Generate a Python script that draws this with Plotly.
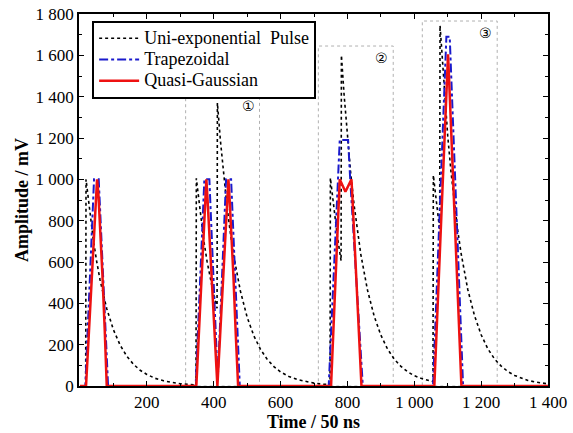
import plotly.graph_objects as go

# ---------------- data ----------------
# Uni-exponential pulse (black dotted)
uni_t = [0, 17, 18, 30, 40, 50, 60, 80, 100, 120, 140, 160, 180, 200, 225, 250, 275, 300, 325, 347,
         348, 360, 370, 380, 390, 400, 410, 411, 420, 430, 440, 450, 460, 480, 500, 520, 540, 560, 580,
         600, 625, 650, 675, 700, 725, 748,
         749, 760, 770, 781, 782, 790, 800, 810, 820, 830, 840, 860, 880, 900, 920, 940, 960, 980, 1000,
         1020, 1040, 1056,
         1057, 1067, 1076, 1077, 1090, 1100, 1110, 1120, 1130, 1140, 1160, 1180, 1200, 1220, 1240, 1260,
         1280, 1300, 1320, 1340, 1360, 1380, 1400]
uni_v = [0, 0, 1000, 827, 705, 602, 513, 374, 272, 198, 144, 105, 76, 56, 37, 25, 17, 11, 8, 5,
         1005, 828, 707, 604, 515, 440, 376, 1370, 1188, 1014, 865, 738, 629, 458, 333, 243, 177, 129, 94,
         68, 46, 31, 21, 14, 9, 7,
         1007, 846, 722, 606, 1600, 1409, 1202, 1026, 875, 747, 637, 464, 338, 246, 179, 130, 95, 69, 50,
         37, 27, 21,
         1020, 870, 755, 1745, 1420, 1211, 1033, 882, 752, 642, 467, 341, 248, 180, 131, 96,
         70, 51, 37, 27, 20, 14, 10]

# Trapezoidal (blue dash-dot)
trap_t = [0, 16, 42, 56, 84, 346, 372, 387, 412, 437, 452, 478,
          744, 772, 777, 802, 808, 846, 1056, 1096, 1106, 1146, 1400]
trap_v = [0, 0, 1000, 1000, 0, 0, 1000, 1000, 30, 1000, 1000, 0,
          0, 1000, 1190, 1190, 1010, 0, 0, 1690, 1690, 0, 0]

# Quasi-Gaussian (red solid)
gauss_t = [0, 18, 26, 34, 42, 47, 51, 55, 60, 67, 74, 80,
           348, 356, 364, 371, 375, 378, 381, 386, 394, 403, 411,
           419, 427, 435, 440, 444, 447, 452, 459, 466, 473,
           751, 759, 767, 774, 777, 794, 812, 815, 824, 833, 842,
           1060, 1070, 1080, 1090, 1096, 1101, 1106, 1112, 1122, 1132, 1141, 1400]
gauss_v = [0, 0, 240, 490, 760, 920, 1000, 930, 790, 540, 270, 0,
           0, 270, 540, 780, 920, 1000, 920, 770, 530, 260, 0,
           240, 490, 740, 900, 1000, 920, 770, 530, 250, 0,
           0, 310, 620, 890, 1000, 940, 1000, 910, 620, 310, 0,
           0, 390, 780, 1170, 1400, 1605, 1410, 1170, 780, 390, 0, 0]

series_names = ["Uni-exponential  Pulse", "Trapezoidal", "Quasi-Gaussian"]

# Highlighted regions
region_start = [316, 713, 1024]
region_end = [537, 937, 1248]
region_top = [1413, 1645, 1766]
region_labels = ["①", "②", "③"]

x_tick_vals = [0, 200, 400, 600, 800, 1000, 1200, 1400]
x_tick_text = ["", "200", "400", "600", "800", "1 000", "1 200", "1 400"]
y_tick_vals = [0, 200, 400, 600, 800, 1000, 1200, 1400, 1600, 1800]
y_tick_text = ["0", "200", "400", "600", "800", "1 000", "1 200", "1 400", "1 600", "1 800"]

# ---------------- figure ----------------
FONT = "Liberation Serif, Times New Roman, serif"


def legend_label(s):
    return '<span style="font-size:18px">' + s + '</span>'


fig = go.Figure()
fig.add_trace(go.Scatter(x=uni_t, y=uni_v, mode="lines", name=legend_label(series_names[0]),
                         line=dict(color="black", width=1.6, dash="dot")))
fig.add_trace(go.Scatter(x=trap_t, y=trap_v, mode="lines", name=legend_label(series_names[1]),
                         line=dict(color="#1a1acc", width=2, dash="dashdot")))
fig.add_trace(go.Scatter(x=gauss_t, y=gauss_v, mode="lines", name=legend_label(series_names[2]),
                         line=dict(color="#ee1111", width=2.5)))

for x0, x1, top, lab in zip(region_start, region_end, region_top, region_labels):
    fig.add_shape(type="rect", xref="x", yref="y", x0=x0, x1=x1, y0=0, y1=top,
                  line=dict(color="#b0b0b0", width=1, dash="dot"), layer="below")
    fig.add_annotation(x=x1, y=top, xref="x", yref="y", text=lab, showarrow=False,
                       xanchor="right", yanchor="top", xshift=-3, yshift=-2,
                       font=dict(size=14, color="black", family="DejaVu Sans, Noto Sans CJK SC"))

axis_common = dict(showline=True, linecolor="black", linewidth=1.5, mirror="allticks",
                   ticks="inside", ticklen=5, tickwidth=1.2, tickcolor="black",
                   showgrid=False, zeroline=False, automargin=False,
                   tickfont=dict(family=FONT, size=17, color="black"))

fig.update_xaxes(range=[-3, 1400], tickmode="array", tickvals=x_tick_vals, ticktext=x_tick_text,
                 minor=dict(ticks="inside", ticklen=3, dtick=100, tick0=0, tickcolor="black", tickwidth=1),
                 title=dict(text="<b>Time / 50 ns</b>", font=dict(family=FONT, size=18, color="black"),
                            standoff=2),
                 **axis_common)
fig.update_yaxes(range=[0, 1800], tickmode="array", tickvals=y_tick_vals, ticktext=y_tick_text,
                 minor=dict(ticks="inside", ticklen=3, dtick=100, tick0=0, tickcolor="black", tickwidth=1),
                 title=dict(text="<b>Amplitude / mV</b>", font=dict(family=FONT, size=18, color="black"),
                            standoff=2),
                 **axis_common)

fig.update_layout(
    width=573, height=433,
    margin=dict(l=79, r=25, t=14, b=47),
    paper_bgcolor="white", plot_bgcolor="white",
    font=dict(family=FONT, color="black"),
    showlegend=True,
    legend=dict(x=0.028, y=0.982, xanchor="left", yanchor="top",
                bordercolor="black", borderwidth=2, bgcolor="white",
                font=dict(family=FONT, size=14, color="black"),
                itemwidth=40, tracegroupgap=0),
)

# remove the default page margin so the figure sits at the window's top-left corner
fig.write_html("out.html",
               config={"displayModeBar": False},
               post_script="document.body.style.margin='0';document.body.style.overflow='hidden';")
